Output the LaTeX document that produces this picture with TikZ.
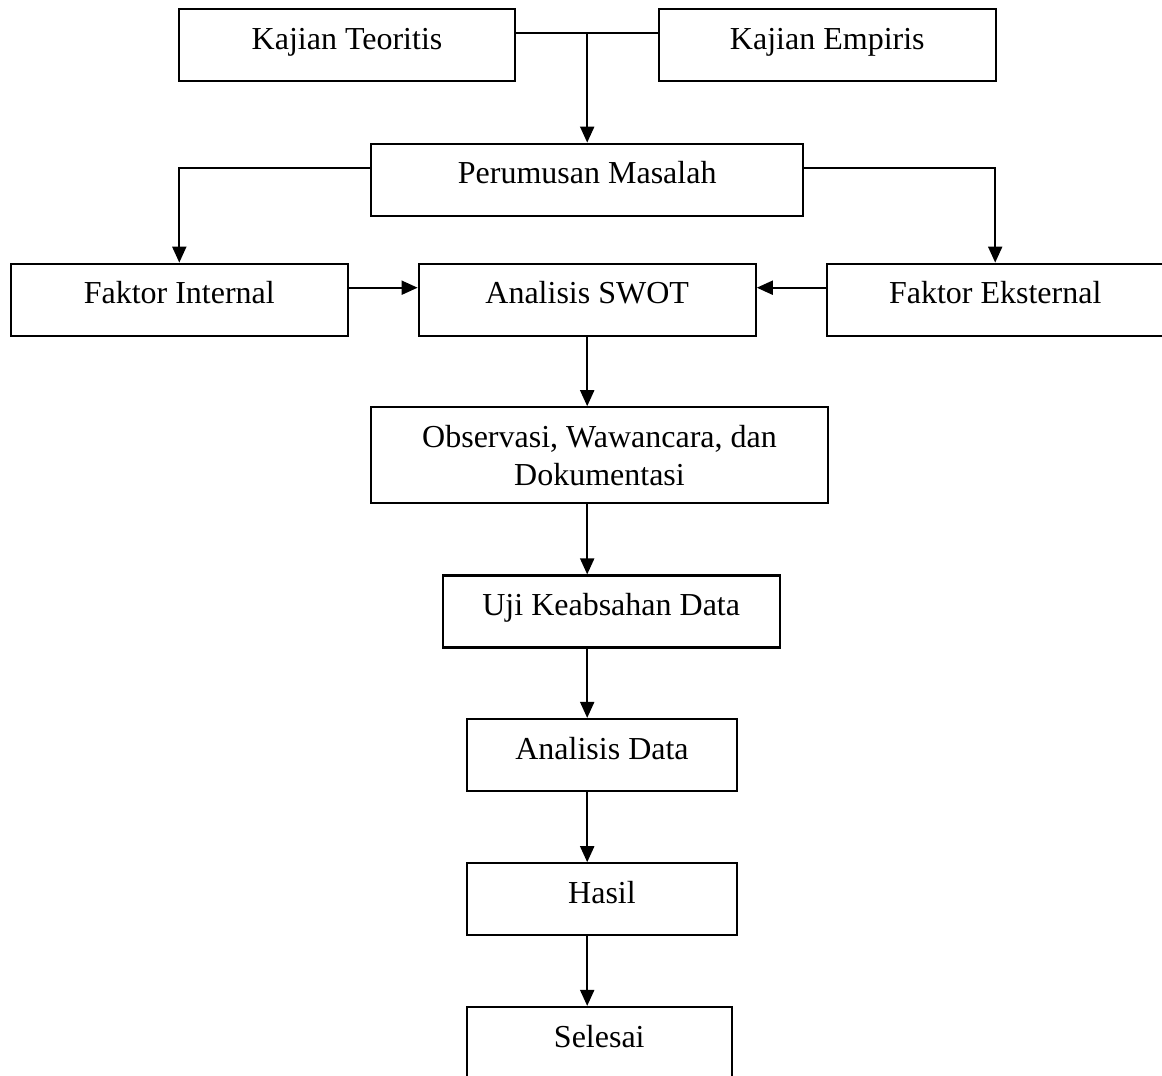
\documentclass[tikz,border=0pt]{standalone}
\usepackage{fontspec}
\setmainfont{Liberation Serif}
\usetikzlibrary{arrows.meta, positioning, calc}

\begin{document}
\begin{tikzpicture}[
    x=0.5pt, y=-0.5pt,
    block/.style={rectangle, draw, line width=1.1pt, inner sep=0pt, minimum height=36pt,
        text height=20pt, text depth=16pt, font=\fontsize{16}{19.2}\selectfont},
    flow/.style={line width=1pt, -{Triangle[length=8pt, width=7pt]}},
    plain/.style={line width=1pt}
]
    \useasboundingbox (0,0) rectangle (1162,1076);

    \node[block, minimum width=168pt] (KT) at (347, 45.2) {Kajian Teoritis};
    \node[block, minimum width=168.5pt] (KE) at (827.3, 45.2) {Kajian Empiris};
    \node[block, minimum width=216pt] (PM) at (587.2, 179.7) {Perumusan Masalah};
    \node[block, minimum width=168.3pt] (FI) at (179.3, 299.7) {Faktor Internal};
    \node[block, minimum width=168.5pt] (SW) at (587.2, 299.7) {Analisis SWOT};
    \node[block, minimum width=168.5pt] (FE) at (995.2, 299.7) {Faktor Eksternal};
    \node[block, minimum width=228.5pt, text height=39.2pt, text depth=8.8pt, align=center] (OB)
        at (599.5, 455.3) {Observasi, Wawancara, dan\\Dokumentasi};
    \node[block, minimum width=168.5pt] (UK) at (611.2, 611.5) {Uji Keabsahan Data};
    \node[block, minimum width=135pt] (AD) at (602, 755) {Analisis Data};
    \node[block, minimum width=135pt] (HS) at (602, 899.3) {Hasil};
    \node[block, minimum width=132.5pt] (SL) at (599.3, 1043) {Selesai};

    % kajian -> perumusan
    \coordinate (KTr) at ([yshift=6pt]KT.east);
    \draw[plain] (KTr) -- (KTr -| KE.west);
    \draw[flow] (KTr -| PM.north) -- (PM.north);

    % perumusan -> faktor
    \coordinate (PMl) at ([yshift=6pt]PM.west);
    \coordinate (PMr) at ([yshift=6pt]PM.east);
    \draw[flow] (PMl) -| (FI.north);
    \draw[flow] (PMr) -| (FE.north);

    % faktor -> swot
    \coordinate (FIr) at ([yshift=6pt]FI.east);
    \coordinate (FEl) at ([yshift=6pt]FE.west);
    \draw[flow] (FIr) -- (FIr -| SW.west);
    \draw[flow] (FEl) -- (FEl -| SW.east);

    % alur ke bawah
    \draw[flow] (SW.south) -- (SW.south |- OB.north);
    \draw[flow] (SW.south |- OB.south) -- (SW.south |- UK.north);
    \draw[flow] (SW.south |- UK.south) -- (SW.south |- AD.north);
    \draw[flow] (SW.south |- AD.south) -- (SW.south |- HS.north);
    \draw[flow] (SW.south |- HS.south) -- (SW.south |- SL.north);
\end{tikzpicture}
\end{document}
